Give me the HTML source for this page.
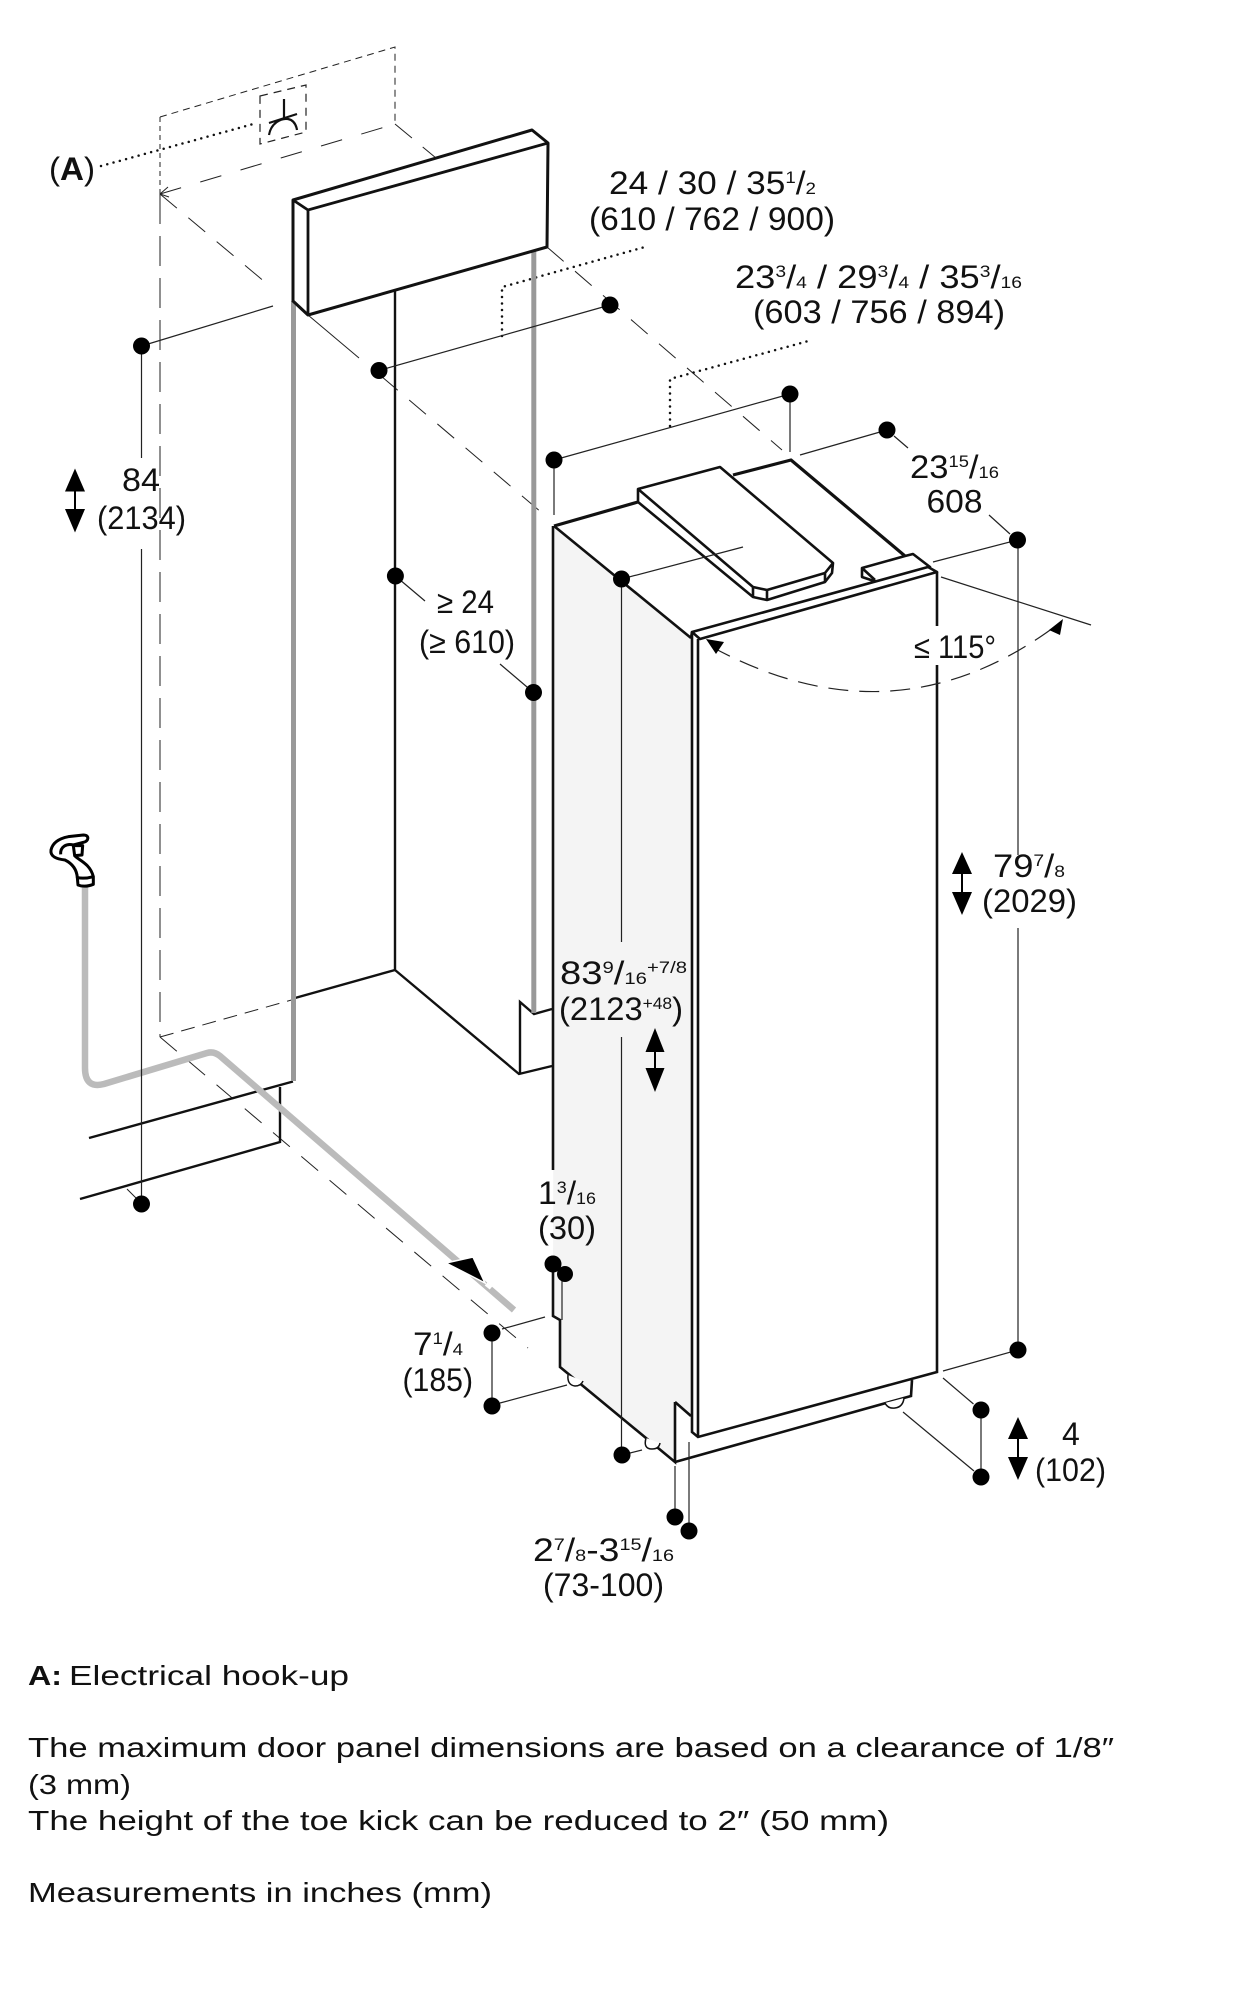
<!DOCTYPE html>
<html><head><meta charset="utf-8"><style>
html,body{margin:0;padding:0;background:#fff}
svg{display:block}
text{font-family:"Liberation Sans",sans-serif;fill:#111;font-size:32px}
.b text{font-size:27.500px}
</style></head><body>
<svg width="1243" height="2000" viewBox="0 0 1243 2000" xmlns="http://www.w3.org/2000/svg">
<rect width="1243" height="2000" fill="#fff"/>

<!-- dashed construction lines -->
<g fill="none" stroke="#222" stroke-width="1">
<path d="M160 117L395 47V123" stroke-dasharray="7 5"/>
<path d="M160 117V194" stroke-dasharray="5 4"/>
<path d="M160 194L395 124" stroke-dasharray="22 20"/>
<path d="M160 194V1037" stroke-dasharray="30 12"/>
<path d="M160 1037L295 999" stroke-dasharray="14 8"/>
<path d="M395 124L436 158" stroke-dasharray="22 14"/>
<path d="M160 194L272 288" stroke-dasharray="22 15"/>
<path d="M308 315L359 358"/>
<path d="M381 376L548 518" stroke-dasharray="22 15"/>
<path d="M547 247L782 450" stroke-dasharray="22 15"/>
<path d="M160 1037L528 1348" stroke-dasharray="22 15"/>
<path d="M127 1189L137 1199"/>
<path d="M160 194l8 -7M160 194l9 3" />
</g>

<!-- socket -->
<path d="M260 96L306 85V132L260 144Z" fill="none" stroke="#222" stroke-width="1.200" stroke-dasharray="8 6"/>
<path d="M284 99V118M269 123L297 114M269 135C271 123 281 118 288 119C293 120 296 124 297 130" fill="none" stroke="#111" stroke-width="2.200"/>

<!-- dotted leaders -->
<g fill="none" stroke="#111" stroke-width="2.500" stroke-linecap="round" stroke-dasharray="0 6.500">
<path d="M101 166L257 123"/>
<path d="M502 336V287L645 247"/>
<path d="M670 426V379L812 340"/>
</g>

<!-- walls / floor -->
<g fill="none" stroke="#111" stroke-width="2.400">
<path d="M395 291V970L519 1074L552 1066"/>
<path d="M295 998L395 970"/>
<path d="M520 1074V1002L534 1014L552 1009"/>
<path d="M293 1081.500L89 1138"/>
<path d="M280 1087V1142L80 1199"/>
</g>
<g fill="none" stroke="#999" stroke-width="5">
<path d="M293.500 301V1081"/>
<path d="M533.800 250V1013"/>
</g>

<!-- hose -->
<path d="M85 885V1068Q85 1089 104 1084L207 1053Q214 1051 220 1056L514 1310" fill="none" stroke="#bbb" stroke-width="6.500" stroke-linejoin="round"/>
<path d="M446 1263L473 1257L485 1283Z" fill="#000" stroke="#fff" stroke-width="1.500"/>
<path d="M486 1284L491 1288" stroke="#fff" stroke-width="4"/>

<!-- faucet -->
<g transform="translate(40 825) scale(.3333)" fill="#fff" stroke="#000" stroke-width="9" stroke-linejoin="round">
<path d="M112 158C110 130 95 115 75 105C50 102 30 95 33 75C38 52 60 40 85 35L130 30C150 30 146 50 130 52L100 60C80 55 60 65 62 88"/>
<path d="M100 62L128 62L126 90L104 92Z"/>
<path d="M104 92C115 105 150 115 160 155L160 178Q135 188 114 180L112 158Q135 162 160 155"/>
</g>

<!-- top panel -->
<path d="M293 200L532 130L548 143L547 247L308 315L293 301Z" fill="#fff" stroke="#111" stroke-width="3" stroke-linejoin="round"/>
<path d="M293 200L308 210L548 143M308 210V315" fill="none" stroke="#111" stroke-width="2.800"/>

<!-- fridge side face -->
<path d="M554 526L691 638L692 1416L675 1402V1462L560 1367V1320L553 1316Z" fill="#f4f4f4"/>
<!-- fridge top -->
<g fill="#fff" stroke="#111" stroke-width="2.600" stroke-linejoin="round">
<path d="M554 526L638 502V489L720 467L733 475L791 460L905 556L913 554L937 572L700 639L692 632Z" fill="#fff" stroke="none"/>
<path d="M554 526L638 502" fill="none" stroke-width="3.200"/>
<path d="M733 475L791 460L905 556" fill="none" stroke-width="3.200"/>
<path d="M638 489V502L753 597L767 600L825 582L832 573L833 563L720 467Z"/>
<path d="M638 489L753 587L767 590L825 573L833 563M753 587V597M767 590V600M825 573V582" fill="none"/>
<path d="M862 568L905 556L913 554L930 567L877 582L862 577Z"/>
<path d="M862 568L875 580" fill="none"/>
<path d="M692 632L928 567L937 572L700 639Z"/>
<path d="M692 632L691 638"/>
</g>
<g fill="none" stroke="#111" stroke-width="2.600">
<path d="M554 526L691 638"/>
<path d="M553 526V1170"/>
<path d="M692 632V1432L698 1437L937 1372V572"/>
<path d="M698 639V1437"/>
<path d="M675 1402L691 1416"/>
<path d="M675 1402V1462L560 1367V1320L553 1316V1272"/>
<path d="M675 1462L911 1396L912 1380"/>
</g>
<!-- feet -->
<g fill="#fff" stroke="#111" stroke-width="1.500">
<path d="M568 1375Q567 1385 575 1386Q581 1386 583 1381"/>
<path d="M646 1438Q643 1449 652 1449Q659 1449 660 1443"/>
<path d="M885 1403Q888 1409 895 1408Q903 1407 904 1398"/>
</g>

<!-- gap for 115 label on door edge -->
<rect x="934" y="626" width="6" height="39" fill="#fff"/>

<!-- dimension lines -->
<g fill="none" stroke="#222" stroke-width="1.200">
<path d="M141.500 346V458M141.500 549V1204"/>
<path d="M141.500 346L273 306"/>
<path d="M379 370.500L610 305"/>
<path d="M395.400 576L425 601"/>
<path d="M500 664L533.500 692.500"/>
<path d="M554 460L790 394"/>
<path d="M554 460V515"/>
<path d="M790 394V452"/>
<path d="M887 430L800 455"/>
<path d="M894 436L908 448"/>
<path d="M1017.500 540L933 562"/>
<path d="M989 515L1010 534"/>
<path d="M1018 540V855M1018 928V1350"/>
<path d="M621.500 579L743 547"/>
<path d="M621.500 579V942M621.500 1037V1455"/>
<path d="M622 1455L642 1450"/>
<path d="M941 577L1091 625"/>
<path d="M1018 1350L943 1371"/>
<path d="M943 1378L973.500 1404"/>
<path d="M903 1412L974 1471"/>
<path d="M981 1410V1477"/>
<path d="M492 1333V1406"/>
<path d="M502 1329L545 1317"/>
<path d="M500 1403L567 1385"/>
<path d="M562 1277V1320"/>
<path d="M675 1466V1517"/>
<path d="M689 1442V1531"/>
<path d="M712 647Q895 746 1057 625" stroke-dasharray="20 11"/>
</g>

<!-- angle arrowheads -->
<path d="M706 639L724 642L716 654Z M1063 619L1049 630L1060 635Z" fill="#000"/>

<!-- dots -->
<g fill="#000">
<circle cx="141.500" cy="346" r="8.500"/><circle cx="141.500" cy="1204" r="8.500"/>
<circle cx="379" cy="370.500" r="8.500"/><circle cx="610" cy="305" r="8.500"/>
<circle cx="395.400" cy="576" r="8.500"/><circle cx="533.500" cy="692.500" r="8.500"/>
<circle cx="554" cy="460" r="8.500"/><circle cx="790" cy="394" r="8.500"/>
<circle cx="887" cy="430" r="8.500"/><circle cx="1017.500" cy="540" r="8.500"/>
<circle cx="621.500" cy="579" r="8.500"/><circle cx="622" cy="1455" r="8.500"/>
<circle cx="1018" cy="1350" r="8.500"/><circle cx="981" cy="1410" r="8.500"/><circle cx="981" cy="1477" r="8.500"/>
<circle cx="492" cy="1333" r="8.500"/><circle cx="492" cy="1406" r="8.500"/>
<circle cx="553" cy="1264" r="8.500"/><circle cx="565" cy="1274" r="8"/>
<circle cx="675" cy="1517" r="8.500"/><circle cx="689" cy="1531" r="8.500"/>
</g>

<!-- double arrows -->
<g fill="#000" stroke="#000" stroke-width="2">
<path stroke="none" d="M75 468.500L85 491.500H65Z M75 532.500L85 509H65Z"/><path d="M75 491V509"/>
<path stroke="none" d="M962 852L972 874H952Z M962 915L972 892H952Z"/><path d="M962 874V892"/>
<path stroke="none" d="M655 1028L664.500 1052H645.500Z M655 1092L664.500 1068H645.500Z"/><path d="M655 1052V1068"/>
<path stroke="none" d="M1018 1417L1028 1439H1008Z M1018 1480L1028 1457H1008Z"/><path d="M1018 1439V1457"/>
</g>

<!-- labels -->
<text x="49" y="180" textLength="46" lengthAdjust="spacingAndGlyphs">(<tspan font-weight="bold">A</tspan>)</text>
<text x="122" y="491" textLength="38" lengthAdjust="spacingAndGlyphs">84</text>
<text x="97" y="529" textLength="89" lengthAdjust="spacingAndGlyphs">(2134)</text>
<text x="437" y="613" textLength="57" lengthAdjust="spacingAndGlyphs">≥ 24</text>
<text x="419" y="653" textLength="96" lengthAdjust="spacingAndGlyphs">(≥ 610)</text>

<text x="609" y="194" textLength="207" lengthAdjust="spacingAndGlyphs">24 / 30 / 35<tspan font-size="17" dy="-11">1</tspan><tspan dy="11">/</tspan><tspan font-size="17">2</tspan></text>
<text x="589" y="230" textLength="246" lengthAdjust="spacingAndGlyphs">(610 / 762 / 900)</text>
<text x="735" y="288" textLength="287" lengthAdjust="spacingAndGlyphs">23<tspan font-size="17" dy="-11">3</tspan><tspan dy="11">/</tspan><tspan font-size="17">4</tspan> / 29<tspan font-size="17" dy="-11">3</tspan><tspan dy="11">/</tspan><tspan font-size="17">4</tspan> / 35<tspan font-size="17" dy="-11">3</tspan><tspan dy="11">/</tspan><tspan font-size="17">16</tspan></text>
<text x="753" y="323" textLength="252" lengthAdjust="spacingAndGlyphs">(603 / 756 / 894)</text>
<text x="910" y="478" textLength="89" lengthAdjust="spacingAndGlyphs">23<tspan font-size="17" dy="-11">15</tspan><tspan dy="11">/</tspan><tspan font-size="17">16</tspan></text>
<text x="926.500" y="512.600" textLength="56" lengthAdjust="spacingAndGlyphs">608</text>
<text x="914" y="658" textLength="82" lengthAdjust="spacingAndGlyphs">≤ 115°</text>
<text x="993" y="877" textLength="72" lengthAdjust="spacingAndGlyphs">79<tspan font-size="17" dy="-11">7</tspan><tspan dy="11">/</tspan><tspan font-size="17">8</tspan></text>
<text x="982" y="912" textLength="95" lengthAdjust="spacingAndGlyphs">(2029)</text>
<text x="560" y="984" textLength="127" lengthAdjust="spacingAndGlyphs">83<tspan font-size="17" dy="-11">9</tspan><tspan dy="11">/</tspan><tspan font-size="17">16</tspan><tspan font-size="17" dy="-11">+7/8</tspan></text>
<text x="559" y="1020" textLength="124" lengthAdjust="spacingAndGlyphs">(2123<tspan font-size="17" dy="-11">+48</tspan><tspan dy="11">)</tspan></text>
<text x="538" y="1204" textLength="58" lengthAdjust="spacingAndGlyphs">1<tspan font-size="17" dy="-11">3</tspan><tspan dy="11">/</tspan><tspan font-size="17">16</tspan></text>
<text x="538" y="1239" textLength="58" lengthAdjust="spacingAndGlyphs">(30)</text>
<text x="413" y="1355" textLength="50" lengthAdjust="spacingAndGlyphs">7<tspan font-size="17" dy="-11">1</tspan><tspan dy="11">/</tspan><tspan font-size="17">4</tspan></text>
<text x="402.500" y="1391" textLength="70.500" lengthAdjust="spacingAndGlyphs">(185)</text>
<text x="533" y="1561" textLength="141" lengthAdjust="spacingAndGlyphs">2<tspan font-size="17" dy="-11">7</tspan><tspan dy="11">/</tspan><tspan font-size="17">8</tspan>-3<tspan font-size="17" dy="-11">15</tspan><tspan dy="11">/</tspan><tspan font-size="17">16</tspan></text>
<text x="543" y="1596" textLength="121" lengthAdjust="spacingAndGlyphs">(73-100)</text>
<text x="1062" y="1445">4</text>
<text x="1035" y="1481" textLength="71" lengthAdjust="spacingAndGlyphs">(102)</text>

<!-- footer text -->
<g class="b">
<text x="28" y="1685" font-weight="bold" textLength="34" lengthAdjust="spacingAndGlyphs">A:</text>
<text x="69" y="1685" textLength="280" lengthAdjust="spacingAndGlyphs">Electrical hook-up</text>
<text x="28" y="1757" textLength="1086" lengthAdjust="spacingAndGlyphs">The maximum door panel dimensions are based on a clearance of 1/8″</text>
<text x="28" y="1794" textLength="103" lengthAdjust="spacingAndGlyphs">(3 mm)</text>
<text x="28" y="1830" textLength="861" lengthAdjust="spacingAndGlyphs">The height of the toe kick can be reduced to 2″ (50 mm)</text>
<text x="28" y="1902" textLength="464" lengthAdjust="spacingAndGlyphs">Measurements in inches (mm)</text>
</g>
</svg>
</body></html>
